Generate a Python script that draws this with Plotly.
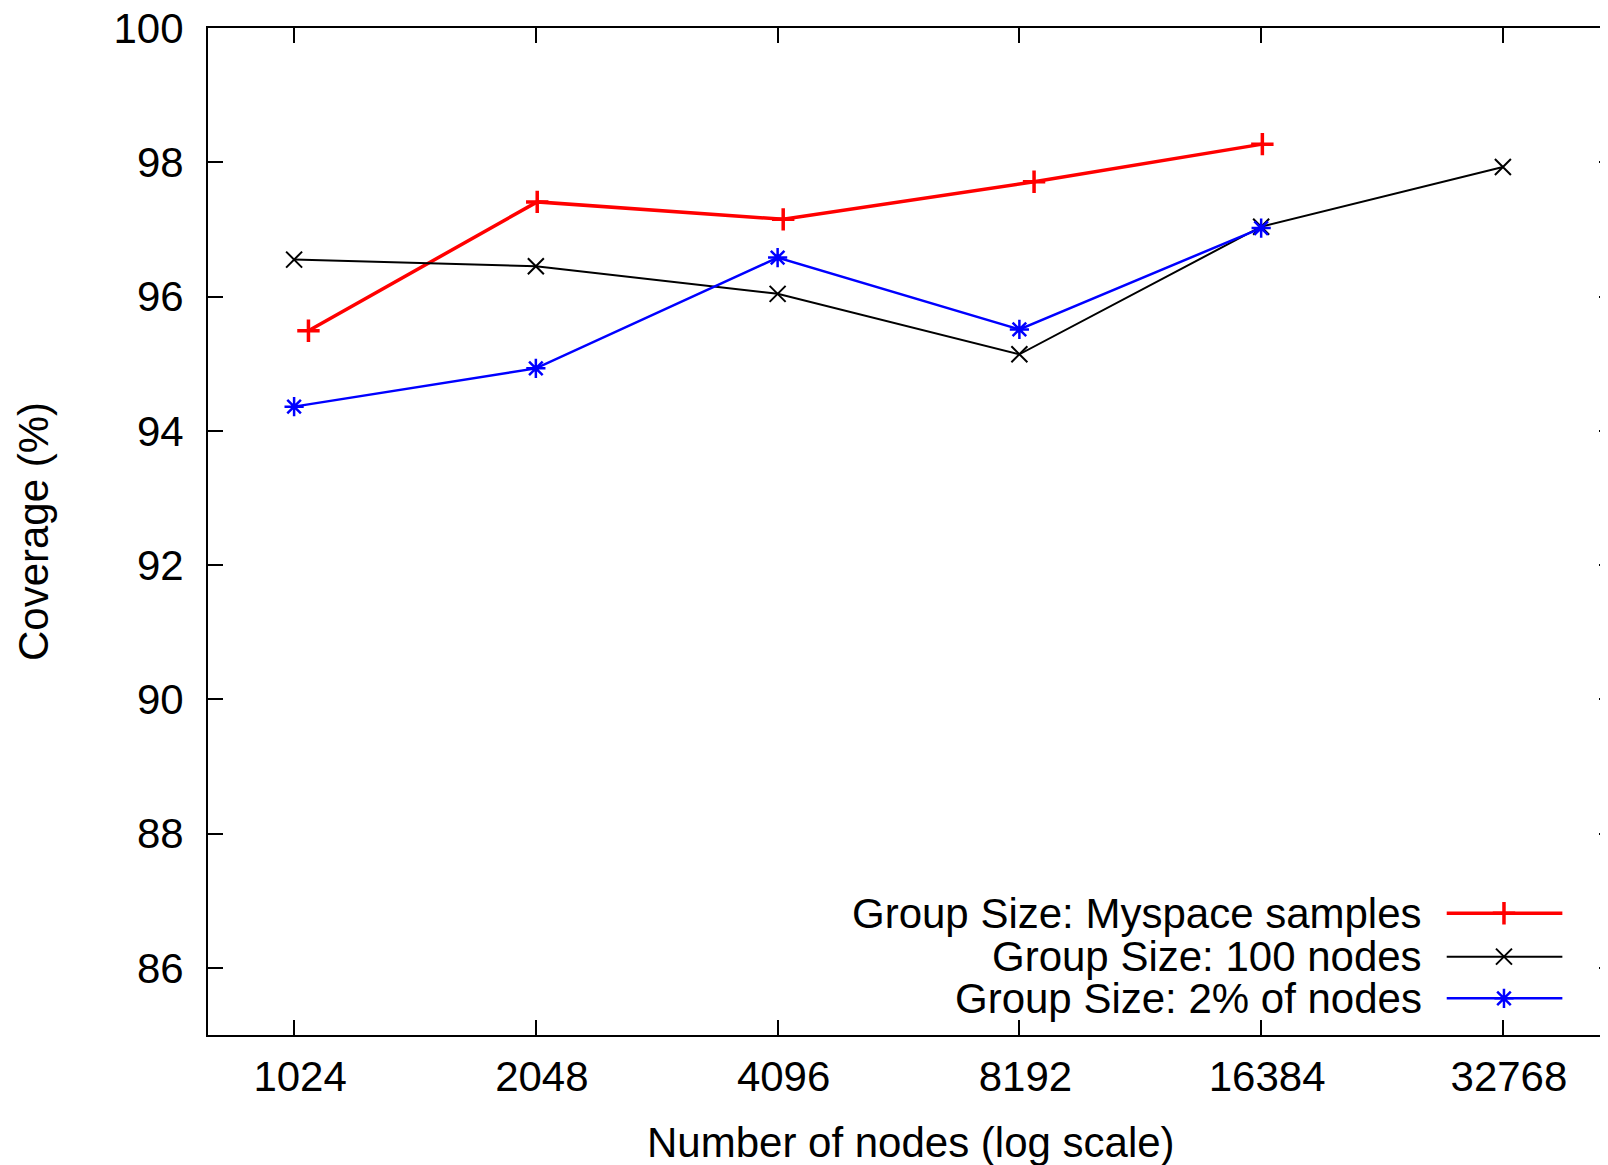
import plotly.graph_objects as go
import math

# ---- data ----
x_myspace = [1067, 2056, 4162, 8544, 16441]
y_myspace = [95.49, 97.41, 97.15, 97.71, 98.27]

x_100 = [1024, 2048, 4096, 8192, 16384, 32768]
y_100 = [96.55, 96.45, 96.04, 95.14, 97.04, 97.93]

x_2pct = [1024, 2048, 4096, 8192, 16384]
y_2pct = [94.36, 94.93, 96.58, 95.51, 97.02]

x_tickvals = [1024, 2048, 4096, 8192, 16384, 32768]
x_ticktext = ["1024", "2048", "4096", "8192", "16384", "32768"]
y_tickvals = [86, 88, 90, 92, 94, 96, 98, 100]

names = ["Group Size: Myspace samples", "Group Size: 100 nodes", "Group Size: 2% of nodes"]
colors = ["#ff0000", "#000000", "#0000ff"]
symbols = ["cross-thin-open", "x-thin-open", "asterisk-open"]
line_widths = [3.5, 2, 2.5]
marker_sizes = [16, 16, 16]

FONT = "Liberation Sans, Arial, sans-serif"
FS = 42

fig = go.Figure()

series = [(x_myspace, y_myspace), (x_100, y_100), (x_2pct, y_2pct)]
for (xs, ys), nm, c, s, lw, ms in zip(series, names, colors, symbols, line_widths, marker_sizes):
    fig.add_trace(go.Scatter(
        x=xs, y=ys, mode="lines+markers", name=nm,
        line=dict(color=c, width=lw),
        marker=dict(symbol=s, size=ms, color=c, line=dict(color=c, width=lw)),
        showlegend=False, xaxis="x", yaxis="y",
    ))

# helper trace for right-side tick axis
fig.add_trace(go.Scatter(x=x_100, y=y_100, mode="lines", line=dict(width=0, color="rgba(0,0,0,0)"),
                         hoverinfo="skip", showlegend=False, xaxis="x", yaxis="y2"))

# custom gnuplot-style legend (text right-aligned, sample on the right)
leg_rows = [0.1209, 0.0778, 0.0364]
leg_x0, leg_x1, leg_xm, leg_text_x = 0.8848, 0.9674, 0.9257, 0.8686
for nm, c, s, lw, ms, ry in zip(names, colors, symbols, line_widths, marker_sizes, leg_rows):
    fig.add_trace(go.Scatter(x=[leg_x0, leg_x1], y=[ry, ry], mode="lines",
                             line=dict(color=c, width=lw), hoverinfo="skip", showlegend=False,
                             xaxis="x3", yaxis="y3"))
    fig.add_trace(go.Scatter(x=[leg_xm], y=[ry], mode="markers",
                             marker=dict(symbol=s, size=ms, color=c, line=dict(color=c, width=lw)),
                             hoverinfo="skip", showlegend=False, xaxis="x3", yaxis="y3"))
    fig.add_annotation(x=leg_text_x, y=ry, xref="x3", yref="y3", text=nm, showarrow=False,
                       xanchor="right", yanchor="middle", font=dict(family=FONT, size=FS, color="black"))

# axis titles
fig.add_annotation(x=0.502, y=-0.107, xref="paper", yref="paper", text="Number of nodes (log scale)",
                   showarrow=False, xanchor="center", yanchor="middle",
                   font=dict(family=FONT, size=FS, color="black"))
fig.add_annotation(x=-0.1246, y=0.5, xref="paper", yref="paper", text="Coverage (%)",
                   showarrow=False, xanchor="center", yanchor="middle", textangle=-90,
                   font=dict(family=FONT, size=FS, color="black"))

# page body has an 8px margin, so the figure is made 8px smaller and margins reduced accordingly
fig.update_layout(
    width=1600, height=1157,
    margin=dict(l=200, r=0, t=20, b=130, autoexpand=False),
    paper_bgcolor="white", plot_bgcolor="white",
    font=dict(family=FONT, size=FS, color="black"),
    xaxis=dict(
        type="log", range=[math.log10(800), math.log10(44290)],
        tickvals=x_tickvals, ticktext=x_ticktext,
        ticks="inside", ticklen=15, tickwidth=1.5, tickcolor="black",
        showline=True, linecolor="black", linewidth=2, mirror="ticks",
        showgrid=False, zeroline=False, automargin=False,
        ticklabelstandoff=4, ticklabelshift=6, ticklabeloverflow="allow",
        tickfont=dict(family=FONT, size=FS),
    ),
    yaxis=dict(
        range=[85, 100], tickvals=y_tickvals,
        ticks="inside", ticklen=15, tickwidth=1.5, tickcolor="black",
        showline=True, linecolor="black", linewidth=2, mirror=False,
        showgrid=False, zeroline=False, automargin=False,
        ticklabelstandoff=14, ticklabeloverflow="allow",
        tickfont=dict(family=FONT, size=FS),
    ),
    yaxis2=dict(
        range=[85, 100], tickvals=y_tickvals, overlaying="y", side="right", anchor="x",
        ticks="inside", ticklen=9, tickwidth=1.5, tickcolor="black", automargin=False,
        showline=False, showgrid=False, zeroline=False, showticklabels=False,
    ),
    xaxis3=dict(range=[0, 1], overlaying="x", visible=False, domain=[0, 1], anchor="y3", automargin=False),
    yaxis3=dict(range=[0, 1], overlaying="y", visible=False, domain=[0, 1], anchor="x3", automargin=False),
)

fig.write_html("out.html")
